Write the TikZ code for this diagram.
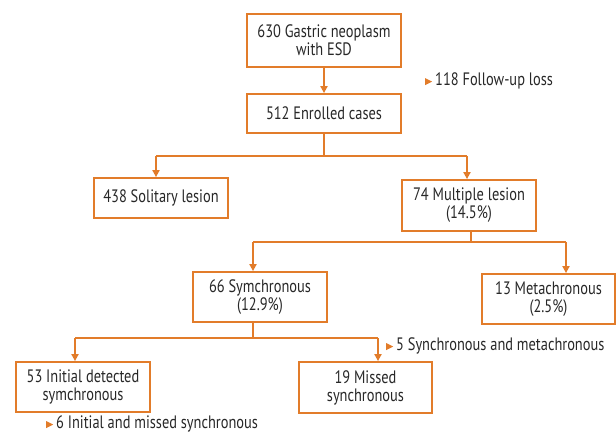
\documentclass[tikz,border=0pt]{standalone}
\usepackage{fontspec}
\setmainfont{PT Sans}[FakeStretch=0.8]
\usetikzlibrary{arrows.meta}
\definecolor{ocol}{RGB}{226,124,42}
\definecolor{tcol}{RGB}{40,40,40}
\newcommand{\otri}{\tikz[baseline=-0.5pt]\fill[ocol] (0,0pt)--(0,7pt)--(7pt,3.5pt)--cycle;\hspace{3pt}}
\begin{document}
\begin{tikzpicture}[x=1pt,y=-1pt,
  box/.style={draw=ocol,line width=1.8pt,fill=white,align=center,inner sep=0pt,text=tcol,font=\fontsize{18}{18}\selectfont},
  conn/.style={draw=ocol,line width=1.8pt},
  arr/.style={conn,-{Triangle[length=7pt,width=7pt]}},
  note/.style={anchor=west,inner sep=0pt,text=tcol,font=\fontsize{18}{18}\selectfont}]
\useasboundingbox (0,0) rectangle (616,433);
\node[box,minimum width=154pt,minimum height=53pt] (b1) at (324,40.5) {630 Gastric neoplasm\\with ESD};
\node[box,minimum width=154pt,minimum height=39pt] (b2) at (324,113.5) {512 Enrolled cases};
\node[box,minimum width=134pt,minimum height=40pt] (b3) at (161,198) {438 Solitary lesion};
\node[box,minimum width=134pt,minimum height=51pt] (b4) at (469,205.5) {74 Multiple lesion\\(14.5\%)};
\node[box,minimum width=134pt,minimum height=50pt] (b5) at (260,297) {66 Symchronous\\(12.9\%)};
\node[box,minimum width=133pt,minimum height=50pt] (b6) at (548.5,299) {13 Metachronous\\(2.5\%)};
\node[box,minimum width=134pt,minimum height=50pt] (b7) at (83,387) {53 Initial detected\\symchronous};
\node[box,minimum width=133pt,minimum height=51pt] (b8) at (365.5,387.5) {19 Missed\\synchronous};
\node[note] (n1) at (425,81) {\otri 118 Follow-up loss};
\node[note] (n2) at (386,346) {\otri 5 Synchronous and metachronous};
\node[note] (n3) at (46,424) {\otri 6 Initial and missed synchronous};
% level 1
\draw[arr] (b1) -- (b2);
% level 2
\coordinate (j1) at (324,156);
\coordinate (j1l) at (156,156);
\coordinate (j1r) at (467,156);
\draw[conn] (b2.south) -- (j1);
\draw[conn] (j1l) -- (j1r);
\draw[arr] (j1l) -- (j1l |- b3.north);
\draw[arr] (j1r) -- (j1r |- b4.north);
% level 3
\coordinate (j2) at (471,242);
\coordinate (j2l) at (253,242);
\coordinate (j2r) at (566,242);
\draw[conn] (b4.south -| j2) -- (j2);
\draw[conn] (j2l) -- (j2r);
\draw[arr] (j2l) -- (j2l |- b5.north);
\draw[arr] (j2r) -- (j2r |- b6.north);
% level 4
\coordinate (j3) at (253,338);
\coordinate (j3l) at (75,338);
\coordinate (j3r) at (378,338);
\draw[conn] (b5.south -| j3) -- (j3);
\draw[conn] (j3l) -- (j3r);
\draw[arr] (j3l) -- (j3l |- b7.north);
\draw[arr] (j3r) -- (j3r |- b8.north);
\end{tikzpicture}
\end{document}
